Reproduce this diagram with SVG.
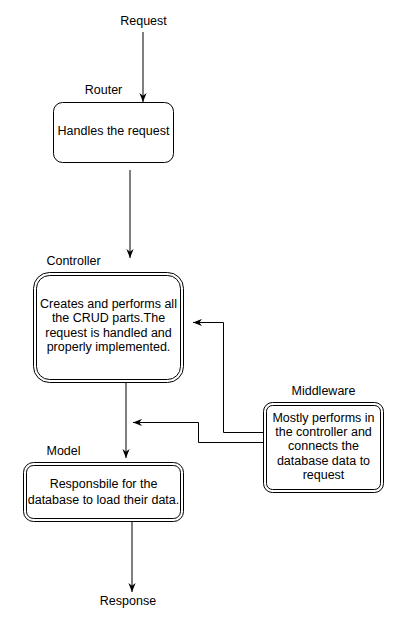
<svg xmlns="http://www.w3.org/2000/svg" width="420" height="639" viewBox="0 0 420 639">
<style>
text{font-family:"Liberation Sans",Arial,sans-serif;font-size:12.5px;fill:#000;text-anchor:middle}
.box{fill:#fff;stroke:#000;stroke-width:1}
.in{fill:none;stroke:#000;stroke-width:1}
.edge{fill:none;stroke:#000;stroke-width:1;marker-end:url(#arr)}
</style>
<defs>
<marker id="arr" viewBox="0 0 10 8" refX="10" refY="4" markerWidth="9" markerHeight="8" markerUnits="userSpaceOnUse" orient="auto">
<path d="M0,0 L10,4 L0,8 L3,4 Z" fill="#000"/>
</marker>
</defs>
<rect width="420" height="639" fill="#fff"/>
<g id="connectors">
<path class="edge" d="M143,32 L143,102"/>
<path class="edge" d="M130,170 L130,258"/>
<path class="edge" d="M126,383 L126,458"/>
<path class="edge" d="M132,522 L132,592"/>
<path class="edge" d="M263,432.5 L223.5,432.5 L223.5,322.5 L193,322.5"/>
<path class="edge" d="M263,442.5 L198.5,442.5 L198.5,422.5 L133,422.5"/>
</g>
<g id="request"><text x="143.5" y="25">Request</text></g>
<g id="router">
<text x="103.5" y="94">Router</text>
<rect class="box" x="53.5" y="102.5" width="120" height="60" rx="9"/>
<text x="113.5" y="135">Handles the request</text>
</g>
<g id="controller">
<text x="73.5" y="265">Controller</text>
<rect class="box" x="33.5" y="272.5" width="150" height="110" rx="16"/>
<rect class="in" x="36.5" y="275.5" width="144" height="104" rx="13"/>
<text x="108.5" y="307.5">Creates and performs all</text>
<text x="108.5" y="322">the CRUD parts.The</text>
<text x="108.5" y="336.5">request is handled and</text>
<text x="108.5" y="351">properly implemented.</text>
</g>
<g id="middleware">
<text x="323.5" y="395">Middleware</text>
<rect class="box" x="263.5" y="402.5" width="120" height="90" rx="9"/>
<rect class="in" x="266.5" y="405.5" width="114" height="84" rx="6"/>
<text x="323.5" y="421.5">Mostly performs in</text>
<text x="323.5" y="436">the controller and</text>
<text x="323.5" y="450">connects the</text>
<text x="323.5" y="464.5">database data to</text>
<text x="323.5" y="478.5">request</text>
</g>
<g id="model">
<text x="63.5" y="455">Model</text>
<rect class="box" x="23.5" y="462.5" width="160" height="59" rx="10"/>
<rect class="in" x="26.5" y="465.5" width="154" height="53" rx="7"/>
<text x="103.5" y="487.5">Responsbile for the</text>
<text x="103.5" y="503.5">database to load their data.</text>
</g>
<g id="response"><text x="128" y="605">Response</text></g>
</svg>
